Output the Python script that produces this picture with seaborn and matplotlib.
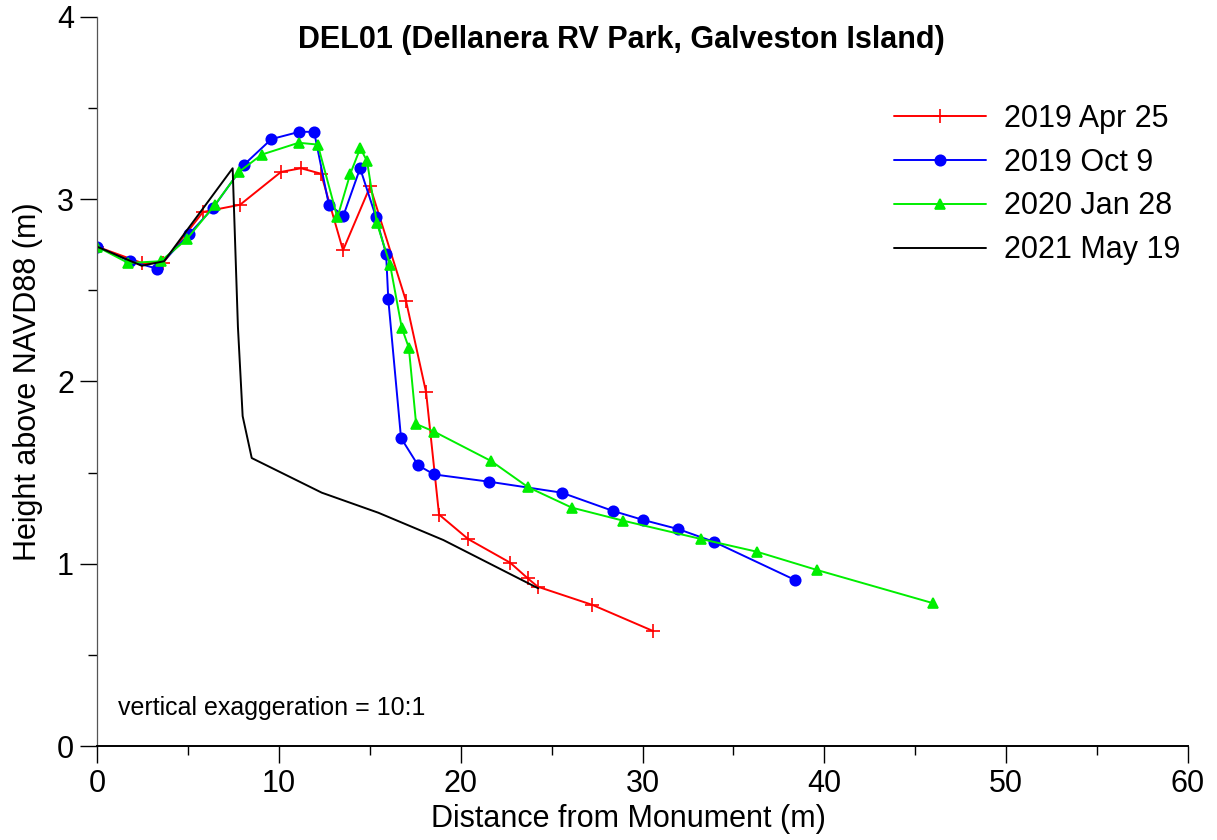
import matplotlib
matplotlib.use("Agg")
import matplotlib.pyplot as plt
import seaborn as sns
from matplotlib.ticker import MultipleLocator

# Beach profile survey data (distance from monument, m / height above NAVD88, m)
apr2019_x = [0, 2.48, 3.63, 5.83, 7.87, 10.12, 11.22, 12.32, 13.53, 15.02, 17.0, 18.1,
             18.81, 20.42, 22.72, 23.69, 24.24, 27.25, 30.58]
apr2019_y = [2.74, 2.65, 2.65, 2.93, 2.97, 3.15, 3.17, 3.14, 2.72, 3.07, 2.44, 1.94,
             1.27, 1.135, 1.006, 0.92, 0.874, 0.774, 0.631]

oct2019_x = [0, 1.82, 3.28, 5.08, 6.36, 8.09, 9.59, 11.13, 11.94, 12.75, 13.55, 14.47,
             15.35, 15.9, 16.02, 16.72, 17.66, 18.54, 21.58, 25.56, 28.37, 30.05, 31.97,
             33.94, 38.41]
oct2019_y = [2.74, 2.66, 2.62, 2.81, 2.95, 3.19, 3.33, 3.37, 3.37, 2.97, 2.91, 3.17,
             2.90, 2.70, 2.45, 1.69, 1.54, 1.49, 1.45, 1.39, 1.29, 1.24, 1.19, 1.12, 0.91]

jan2020_x = [0, 1.72, 3.5, 4.93, 6.49, 7.81, 9.06, 11.09, 12.14, 13.22, 13.93, 14.48,
             14.85, 15.39, 16.12, 16.76, 17.15, 17.55, 18.54, 21.67, 23.71, 26.11, 28.95,
             33.21, 36.29, 39.59, 46.0]
jan2020_y = [2.74, 2.65, 2.66, 2.78, 2.97, 3.15, 3.245, 3.31, 3.30, 2.90, 3.14, 3.28,
             3.21, 2.87, 2.64, 2.295, 2.185, 1.767, 1.725, 1.564, 1.42, 1.308, 1.236,
             1.136, 1.066, 0.966, 0.783]

may2021_x = [0, 2.46, 3.69, 7.46, 7.75, 8.01, 8.51, 12.36, 15.47, 19.05, 24.27]
may2021_y = [2.74, 2.635, 2.66, 3.17, 2.30, 1.81, 1.58, 1.39, 1.28, 1.13, 0.865]

labels = ["2019 Apr 25", "2019 Oct 9", "2020 Jan 28", "2021 May 19"]

sns.set_style("ticks")
plt.rcParams["font.family"] = ["Liberation Sans", "DejaVu Sans"]
plt.rcParams.update({
    "text.color": "black",
    "axes.labelcolor": "black",
    "xtick.color": "black",
    "ytick.color": "black",
    "axes.edgecolor": "black",
})

fig = plt.figure(figsize=(12.17, 8.4), dpi=100)
ax = fig.add_axes([97 / 1217, 1 - 746 / 840, (1188 - 97) / 1217, (746 - 17) / 840])

series = [
    (apr2019_x, apr2019_y, labels[0], "#ff0000", "+", 9.5),
    (oct2019_x, oct2019_y, labels[1], "#0000ff", "o", 7.5),
    (jan2020_x, jan2020_y, labels[2], "#00ee00", "^", 7.5),
    (may2021_x, may2021_y, labels[3], "#000000", None, 0),
]
for xs, ys, lab, col, mk, ms in series:
    sns.lineplot(x=xs, y=ys, ax=ax, sort=False, estimator=None, color=col,
                 marker=mk, markersize=ms, markeredgecolor=col, markeredgewidth=1.2,
                 linewidth=1.4, label=lab)

ax.set_xlim(0, 60)
ax.set_ylim(0, 4)
ax.xaxis.set_major_locator(MultipleLocator(10))
ax.xaxis.set_minor_locator(MultipleLocator(5))
ax.yaxis.set_major_locator(MultipleLocator(1))
ax.yaxis.set_minor_locator(MultipleLocator(0.5))
ax.tick_params(which="major", direction="out", length=12.5, width=1.0, labelsize=22, pad=4)
ax.tick_params(which="minor", direction="out", length=6.5, width=1.0)

sns.despine(ax=ax)
ax.spines["left"].set_linewidth(0.9)
ax.spines["left"].set_color("#555555")
ax.spines["bottom"].set_linewidth(1.4)

ax.set_xlabel("Distance from Monument (m)", fontsize=22)
ax.xaxis.set_label_coords(0.487, -0.08)
ax.set_ylabel("Height above NAVD88 (m)", fontsize=22, labelpad=10)

fig.text(621 / 1217, 1 - 40 / 840, "DEL01 (Dellanera RV Park, Galveston Island)",
         fontsize=22, fontweight="bold", ha="center", va="center")
ax.text(118 / 1217, 1 - 708 / 840, "vertical exaggeration = 10:1", fontsize=18,
        transform=fig.transFigure, ha="left", va="center")

ax.legend(loc="upper left", bbox_to_anchor=(894 / 1217, 1 - 104 / 840),
          bbox_transform=fig.transFigure, frameon=False, fontsize=22,
          handlelength=3.0, handletextpad=0.6, labelspacing=0.45,
          borderpad=0, borderaxespad=0)

fig.savefig("out.png", dpi=100)
